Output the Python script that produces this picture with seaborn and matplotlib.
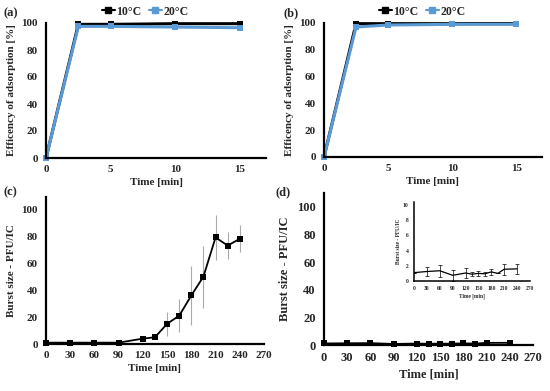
import numpy as np
import pandas as pd
import matplotlib
matplotlib.use("Agg")
import matplotlib.pyplot as plt
import seaborn as sns
from matplotlib.lines import Line2D

sns.set_style("white")
plt.rcParams['font.family'] = ['Liberation Serif', 'DejaVu Serif']
plt.rcParams['font.weight'] = 'bold'

# ---- data ----
ads_time = [0, 2.5, 5, 10, 15]
a_10 = [0, 99.0, 99.0, 99.5, 99.5]
a_20 = [0, 97.5, 97.5, 97.0, 96.5]
b_10 = [0, 99.5, 99.5, 99.5, 99.5]
b_20 = [0, 97.0, 98.5, 99.0, 99.0]

c_time = [0, 30, 60, 90, 120, 135, 150, 165, 180, 195, 210, 225, 240]
c_val = [1, 1, 1, 1, 4, 5, 15, 21, 36, 50, 79, 73, 78]
c_err = [0, 0, 0, 0, 0, 0, 9, 12, 22, 23, 17, 10, 10]

d_time = [0, 30, 60, 90, 120, 135, 150, 165, 180, 195, 210, 240]
d_val = [1.1, 1.25, 1.35, 0.75, 1.05, 0.9, 1.0, 0.95, 1.2, 1.0, 1.55, 1.6]
d_err = [0, 0.6, 0.8, 0.7, 0.6, 0.3, 0.3, 0.3, 0.4, 0, 0.7, 0.7]

BLUE = '#5b9bd5'
W, H = 550, 391
fig = plt.figure(figsize=(W / 100, H / 100), dpi=100)


def unclip(ax):
    for ln in ax.lines:
        ln.set_clip_on(False)


def style(ax, fs=8, lw=1.6, tl=4):
    for s in ['top', 'right']:
        ax.spines[s].set_visible(False)
    for s in ['left', 'bottom']:
        ax.spines[s].set_linewidth(lw)
        ax.spines[s].set_color('black')
    ax.tick_params(axis='x', direction='inout', length=tl * 1.6, width=lw, labelsize=fs, pad=2)
    ax.tick_params(axis='y', direction='out', length=tl, width=lw, labelsize=fs, pad=2)
    ax.grid(False)
    for lab in ax.get_xticklabels() + ax.get_yticklabels():
        lab.set_fontweight('bold')


def ads_panel(rect, v10, v20, letter, lx, ly):
    ax = fig.add_axes(rect)
    df = pd.DataFrame({'t': ads_time * 2, 'v': v10 + v20,
                       's': ['10°C'] * len(ads_time) + ['20°C'] * len(ads_time)})
    sns.lineplot(data=df, x='t', y='v', hue='s', palette={'10°C': 'black', '20°C': BLUE},
                 marker='s', markersize=5, markeredgewidth=0, linewidth=2.2, ax=ax, legend=False)
    unclip(ax)
    ax.set_xlim(0, 17)
    ax.set_ylim(0, 100)
    ax.set_xticks([0, 5, 10, 15])
    ax.set_yticks([0, 20, 40, 60, 80, 100])
    ax.set_xlabel('Time [min]', fontsize=8, fontweight='bold', labelpad=3)
    ax.set_ylabel('Efficency of adsorption [%]', fontsize=8, fontweight='bold', labelpad=4)
    style(ax)
    fig.text(lx / W, 1 - ly / H, letter, fontsize=9, fontweight='bold', va='center', ha='left')
    handles = [Line2D([], [], color='black', marker='s', markersize=4.5, lw=1.5),
               Line2D([], [], color=BLUE, marker='s', markersize=4.5, lw=1.5)]
    ax.legend(handles, ['10°C', '20°C'], ncol=2, frameon=False, loc='center',
              bbox_to_anchor=(0.45, 1.085), fontsize=8.5, handlelength=1.1, handletextpad=0.15,
              columnspacing=0.6, borderaxespad=0, borderpad=0)
    return ax


ads_panel([46 / W, 1 - 158 / H, 220 / W, 135 / H], a_10, a_20, '(a)', 4, 13)
ads_panel([324 / W, 1 - 157 / H, 218 / W, 134 / H], b_10, b_20, '(b)', 283, 13)

# (c)
axc = fig.add_axes([46 / W, 1 - 344 / H, 218 / W, 147 / H])
axc.errorbar(c_time, c_val, yerr=c_err, fmt='none', ecolor='#aaaaaa', elinewidth=0.8, capsize=0)
sns.lineplot(x=c_time, y=c_val, color='black', marker='s', markersize=5, markeredgewidth=0,
             linewidth=1.3, ax=axc)
unclip(axc)
axc.set_xlim(0, 270)
axc.set_ylim(0, 109)
axc.set_xticks(range(0, 271, 30))
axc.set_yticks(range(0, 101, 20))
axc.set_xlabel('Time [min]', fontsize=8, fontweight='bold', labelpad=3)
axc.set_ylabel('Burst size - PFU/IC', fontsize=8, fontweight='bold', labelpad=4)
style(axc)
fig.text(4 / W, 1 - 192 / H, '(c)', fontsize=9, fontweight='bold', va='center', ha='left')

# (d)
axd = fig.add_axes([324 / W, 1 - 345 / H, 209 / W, 152 / H])
axd.errorbar(d_time, d_val, yerr=d_err, fmt='none', ecolor='#aaaaaa', elinewidth=0.8, capsize=0)
sns.lineplot(x=d_time, y=d_val, color='black', marker='s', markersize=5, markeredgewidth=0,
             linewidth=1.3, ax=axd)
unclip(axd)
axd.set_xlim(0, 270)
axd.set_ylim(0, 110)
axd.set_xticks(range(0, 271, 30))
axd.set_yticks(range(0, 101, 20))
axd.set_xlabel('Time [min]', fontsize=9, fontweight='bold', labelpad=3)
axd.set_ylabel('Burst size - PFU/IC', fontsize=9, fontweight='bold', labelpad=4)
style(axd, fs=9)
fig.text(275 / W, 1 - 192 / H, '(d)', fontsize=9, fontweight='bold', va='center', ha='left')

# inset
axi = fig.add_axes([414 / W, 1 - 281 / H, 116 / W, 79 / H])
axi.errorbar(d_time, d_val, yerr=d_err, fmt='none', ecolor='black', elinewidth=0.5,
             capsize=1.5, capthick=0.5)
sns.lineplot(x=d_time, y=d_val, color='black', linewidth=0.9, ax=axi)
axi.set_xlim(0, 270)
axi.set_ylim(0, 10.4)
axi.set_xticks(range(0, 271, 30))
axi.set_yticks(range(0, 11, 2))
axi.set_xlabel('Time [min]', fontsize=4, fontweight='bold', labelpad=1.5)
axi.set_ylabel('Burst size - PFU/IC', fontsize=4, fontweight='bold', labelpad=1.5)
style(axi, fs=4, lw=1.1, tl=2)
axi.patch.set_alpha(0)

fig.savefig('out.png', dpi=100)
